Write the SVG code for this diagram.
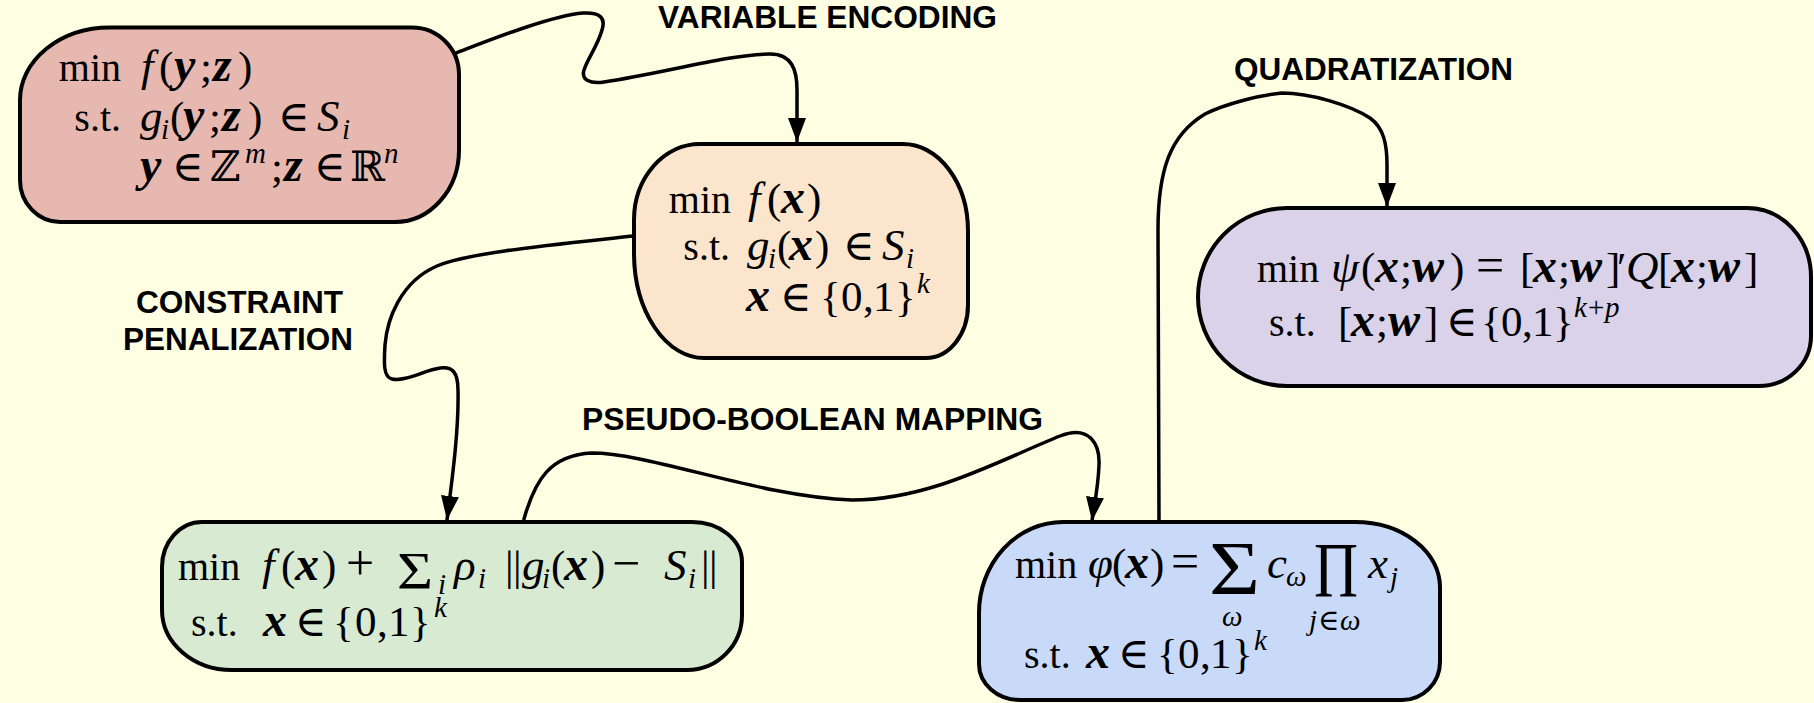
<svg xmlns="http://www.w3.org/2000/svg" width="1814" height="703" viewBox="0 0 1814 703">
  <style>
    .m { font-family: "Liberation Serif", "DejaVu Serif", serif; font-size: 43px; fill: #000; }
    .r { font-size: 40px; }
    .i { font-style: italic; font-size: 45px; }
    .b { font-style: italic; font-weight: bold; font-size: 48px; }
    .op { font-size: 50px; }
    .s { font-size: 29px; }
    .bb { font-family: "DejaVu Serif", "DejaVu Sans", serif; font-size: 42px; }
    .lbl { font-family: "Liberation Sans", Arial, sans-serif; font-weight: bold; font-size: 31px; fill: #000; }
    .node { stroke: #000; stroke-width: 4; }
    .edge { fill: none; stroke: #000; stroke-width: 3.5; stroke-linecap: round; marker-end: url(#arrow); }
  </style>
  <defs>
    <marker id="arrow" markerUnits="userSpaceOnUse" markerWidth="26" markerHeight="20" refX="24" refY="9" orient="auto">
      <path d="M0,0 L24,9 L0,18 Z" fill="#000"/>
    </marker>
  </defs>

  <rect width="1814" height="703" fill="#FEFEE3"/>

  <!-- connectors -->
  <g id="connectors">
    <path class="edge" d="M456,53 C490,40 550,16 583,13 C600,12 606,18 602,30 C598,45 588,58 584,70 C581,80 590,84 604,82 C660,74 730,54 770,54 C792,54 797,70 797,90 L797,142"/>
    <path class="edge" d="M633,236 C560,244 470,252 437,266 C400,282 387,320 385,345 C384,362 383,377 392,379 C405,382 425,370 440,368 C452,366 458,372 458,390 C459,430 452,480 447,520"/>
    <path class="edge" d="M524,519 C535,480 550,455 592,453 C650,453 760,497 852,500 C930,500 1000,460 1060,436 C1090,424 1100,445 1099,465 C1098,490 1094,505 1092,521"/>
    <path class="edge" d="M1159,522 L1158,230 C1158,170 1170,135 1205,114 C1225,104 1260,95 1282,93 C1310,93 1350,105 1370,118 C1384,128 1387,145 1387,165 L1387,207"/>
  </g>

  <!-- step labels -->
  <g id="labels">
    <text class="lbl" x="658" y="28" textLength="339" lengthAdjust="spacingAndGlyphs">VARIABLE ENCODING</text>
    <text class="lbl" x="136" y="313" textLength="207" lengthAdjust="spacingAndGlyphs">CONSTRAINT</text>
    <text class="lbl" x="123" y="350" textLength="230" lengthAdjust="spacingAndGlyphs">PENALIZATION</text>
    <text class="lbl" x="582" y="430" textLength="461" lengthAdjust="spacingAndGlyphs">PSEUDO-BOOLEAN MAPPING</text>
    <text class="lbl" x="1234" y="80" textLength="279" lengthAdjust="spacingAndGlyphs">QUADRATIZATION</text>
  </g>

  <!-- mixed-integer problem -->
  <g id="node-mixed">
    <path class="node" fill="#E6B8AF" d="M110,27.5 H412 A47 47 0 0 1 459,74.5 V150 A64 72 0 0 1 395,222 H60 A40 42 0 0 1 20,180 V100 A90 72.5 0 0 1 110,27.5 Z"/>
    <text class="m r" x="121" y="81" text-anchor="end">min</text>
    <text class="m"><tspan x="141" y="81" class="i">f</tspan><tspan x="159" y="81">(</tspan><tspan x="174" y="81" class="b">y</tspan><tspan x="200" y="81">;</tspan><tspan x="213" y="81" class="b">z</tspan><tspan x="238" y="81">)</tspan></text>
    <text class="m r" x="121" y="131" text-anchor="end">s.t.</text>
    <text class="m"><tspan x="140" y="131" class="i">g</tspan><tspan x="161" y="139" class="i s">i</tspan><tspan x="170" y="131">(</tspan><tspan x="183" y="131" class="b">y</tspan><tspan x="209" y="131">;</tspan><tspan x="222" y="131" class="b">z</tspan><tspan x="248" y="131">)</tspan><tspan x="278" y="131">∈</tspan><tspan x="317" y="131" class="i">S</tspan><tspan x="342" y="139" class="i s">i</tspan></text>
    <text class="m"><tspan x="140" y="181" class="b">y</tspan><tspan x="172" y="181">∈</tspan><tspan x="210" y="181" class="bb">ℤ</tspan><tspan x="245" y="163" class="i s">m</tspan><tspan x="271" y="181">;</tspan><tspan x="284" y="181" class="b">z</tspan><tspan x="314" y="181">∈</tspan><tspan x="350" y="181" class="bb">ℝ</tspan><tspan x="384" y="163" class="i s">n</tspan></text>
  </g>

  <!-- binary problem -->
  <g id="node-binary">
    <path class="node" fill="#FCE5CD" d="M700,144 H903 A65 87 0 0 1 968,231 V305 A42 53 0 0 1 926,358 H704 A70 105 0 0 1 634,253 V220 A66 76 0 0 1 700,144 Z"/>
    <text class="m r" x="731" y="213" text-anchor="end">min</text>
    <text class="m"><tspan x="748" y="213" class="i">f</tspan><tspan x="767" y="213">(</tspan><tspan x="781" y="213" class="b">x</tspan><tspan x="807" y="213">)</tspan></text>
    <text class="m r" x="730" y="260" text-anchor="end">s.t.</text>
    <text class="m"><tspan x="747" y="260" class="i">g</tspan><tspan x="768" y="268" class="i s">i</tspan><tspan x="777" y="260">(</tspan><tspan x="789" y="260" class="b">x</tspan><tspan x="815" y="260">)</tspan><tspan x="843" y="260">∈</tspan><tspan x="882" y="260" class="i">S</tspan><tspan x="906" y="268" class="i s">i</tspan></text>
    <text class="m"><tspan x="746" y="311" class="b">x</tspan><tspan x="780" y="311">∈</tspan><tspan x="820" y="311">{</tspan><tspan x="841" y="311">0</tspan><tspan x="863" y="311">,</tspan><tspan x="873" y="311">1</tspan><tspan x="895" y="311">}</tspan><tspan x="917" y="293" class="i s">k</tspan></text>
  </g>

  <!-- penalized unconstrained problem -->
  <g id="node-penalty">
    <path class="node" fill="#D9EAD3" d="M202,522 H692 A50 40 0 0 1 742,562 V615 A55 55 0 0 1 687,670 H232 A70 60 0 0 1 162,610 V567 A40 45 0 0 1 202,522 Z"/>
    <text class="m"><tspan x="178" y="580" class="r">min</tspan><tspan x="262" y="580" class="i">f</tspan><tspan x="281" y="580">(</tspan><tspan x="295" y="580" class="b">x</tspan><tspan x="322" y="580">)</tspan><tspan x="346" y="580" class="op">+</tspan></text>
    <text class="m" x="397" y="589" style="font-size:52px" textLength="36" lengthAdjust="spacingAndGlyphs">Σ</text>
    <text class="m"><tspan x="438" y="594" class="i s">i</tspan><tspan x="454" y="580" class="i">ρ</tspan><tspan x="478" y="588" class="i s">i</tspan><tspan x="505" y="580">|</tspan><tspan x="513" y="580">|</tspan><tspan x="522" y="580" class="i">g</tspan><tspan x="542" y="588" class="i s">i</tspan><tspan x="551" y="580">(</tspan><tspan x="564" y="580" class="b">x</tspan><tspan x="591" y="580">)</tspan><tspan x="612" y="580" class="op">−</tspan><tspan x="664" y="580" class="i">S</tspan><tspan x="688" y="588" class="i s">i</tspan><tspan x="701" y="580">|</tspan><tspan x="709" y="580">|</tspan></text>
    <text class="m"><tspan x="191" y="636" class="r">s.t.</tspan><tspan x="263" y="636" class="b">x</tspan><tspan x="295" y="636">∈</tspan><tspan x="333" y="636">{</tspan><tspan x="355" y="636">0</tspan><tspan x="377" y="636">,</tspan><tspan x="388" y="636">1</tspan><tspan x="410" y="636">}</tspan><tspan x="434" y="617" class="i s">k</tspan></text>
  </g>

  <!-- pseudo-Boolean problem -->
  <g id="node-pseudo-boolean">
    <path class="node" fill="#C9DAF8" d="M1063,522 H1355 A85 65 0 0 1 1440,587 V662 A38 38 0 0 1 1402,700 H1020 A41 36 0 0 1 979,664 V613 A84 91 0 0 1 1063,522 Z"/>
    <text class="m"><tspan x="1015" y="578" class="r">min</tspan><tspan x="1088" y="578" class="i">φ</tspan><tspan x="1112" y="578">(</tspan><tspan x="1125" y="578" class="b">x</tspan><tspan x="1150" y="578">)</tspan><tspan x="1171" y="578" class="op">=</tspan></text>
    <text class="m" x="1209" y="594" style="font-size:76px" textLength="51" lengthAdjust="spacingAndGlyphs">Σ</text>
    <text class="m i s" x="1222" y="626">ω</text>
    <text class="m"><tspan x="1267" y="578" class="i">c</tspan><tspan x="1286" y="586" class="i s">ω</tspan></text>
    <text class="m" x="1314" y="596" style="font-size:78px" textLength="44" lengthAdjust="spacingAndGlyphs">Π</text>
    <text class="m s"><tspan x="1309" y="630" class="i s">j</tspan><tspan x="1318" y="630">∈</tspan><tspan x="1340" y="630" class="i s">ω</tspan></text>
    <text class="m"><tspan x="1368" y="578" class="i">x</tspan><tspan x="1390" y="587" class="i s">j</tspan></text>
    <text class="m"><tspan x="1024" y="668" class="r">s.t.</tspan><tspan x="1086" y="668" class="b">x</tspan><tspan x="1118" y="668">∈</tspan><tspan x="1157" y="668">{</tspan><tspan x="1178" y="668">0</tspan><tspan x="1200" y="668">,</tspan><tspan x="1210" y="668">1</tspan><tspan x="1232" y="668">}</tspan><tspan x="1254" y="650" class="i s">k</tspan></text>
  </g>

  <!-- quadratic unconstrained binary problem -->
  <g id="node-quadratic">
    <path class="node" fill="#D9D2E9" d="M1287,208 H1747 A64 69 0 0 1 1811,277 V336 A52 50 0 0 1 1759,386 H1287 A89 89 0 0 1 1198,297 A89 89 0 0 1 1287,208 Z"/>
    <text class="m"><tspan x="1257" y="282" class="r">min</tspan><tspan x="1331" y="282" class="i">ψ</tspan><tspan x="1361" y="282">(</tspan><tspan x="1375" y="282" class="b">x</tspan><tspan x="1400" y="282">;</tspan><tspan x="1412" y="282" class="b">w</tspan><tspan x="1450" y="282">)</tspan><tspan x="1476" y="282" class="op">=</tspan><tspan x="1520" y="282">[</tspan><tspan x="1533" y="282" class="b">x</tspan><tspan x="1558" y="282">;</tspan><tspan x="1570" y="282" class="b">w</tspan><tspan x="1606" y="282">]</tspan><tspan x="1617" y="282">′</tspan><tspan x="1626" y="282" class="i">Q</tspan><tspan x="1658" y="282">[</tspan><tspan x="1671" y="282" class="b">x</tspan><tspan x="1696" y="282">;</tspan><tspan x="1708" y="282" class="b">w</tspan><tspan x="1744" y="282">]</tspan></text>
    <text class="m"><tspan x="1269" y="336" class="r">s.t.</tspan><tspan x="1338" y="336">[</tspan><tspan x="1351" y="336" class="b">x</tspan><tspan x="1376" y="336">;</tspan><tspan x="1388" y="336" class="b">w</tspan><tspan x="1424" y="336">]</tspan><tspan x="1446" y="336">∈</tspan><tspan x="1481" y="336">{</tspan><tspan x="1501" y="336">0</tspan><tspan x="1522" y="336">,</tspan><tspan x="1532" y="336">1</tspan><tspan x="1553" y="336">}</tspan><tspan x="1574" y="317" class="i s">k</tspan><tspan x="1588" y="317" class="s">+</tspan><tspan x="1605" y="317" class="i s">p</tspan></text>
  </g>
</svg>
